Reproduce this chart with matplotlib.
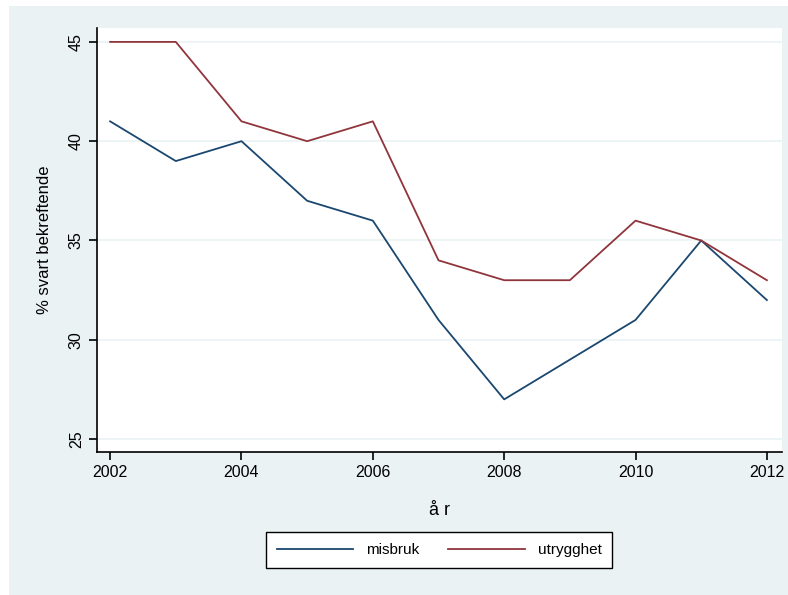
import matplotlib.pyplot as plt
from matplotlib.patches import Rectangle

plt.rcParams['font.family'] = ['Liberation Sans', 'DejaVu Sans']

years = [2002, 2003, 2004, 2005, 2006, 2007, 2008, 2009, 2010, 2011, 2012]
misbruk = [41, 39, 40, 37, 36, 31, 27, 29, 31, 35, 32]
utrygghet = [45, 45, 41, 40, 41, 34, 33, 33, 36, 35, 33]
yticks = [25, 30, 35, 40, 45]
xticks = [2002, 2004, 2006, 2008, 2010, 2012]

W, H = 788, 595
fig = plt.figure(figsize=(W / 100, H / 100), dpi=100)
fig.patch.set_facecolor('white')
# light outer graph region
fig.patches.append(Rectangle((9 / W, 0), 1 - 9 / W, 1 - 6 / H,
                             transform=fig.transFigure, facecolor='#EAF2F3',
                             edgecolor='none', zorder=-10))

ax = fig.add_axes([97 / W, 1 - 452 / H, (782 - 97) / W, (452 - 28) / H])
ax.set_facecolor('white')
ax.plot(years, misbruk, color='#1A476F', lw=1.3, label='misbruk')
ax.plot(years, utrygghet, color='#90353B', lw=1.3, label='utrygghet')

ax.set_xlim(2001.8, 2012.23)
ax.set_ylim(24.35, 45.7)
ax.set_xticks(xticks)
ax.set_yticks(yticks)
ax.grid(axis='y', color='#EAF2F3', lw=1.2)
ax.set_axisbelow(True)
for s in ['top', 'right']:
    ax.spines[s].set_visible(False)
for s in ['left', 'bottom']:
    ax.spines[s].set_linewidth(1.2)
ax.tick_params(length=6, width=1.2, labelsize=11.5)
for lab in ax.get_yticklabels():
    lab.set_rotation(90)
    lab.set_va('center')
ax.set_xlabel('å r', fontsize=13, labelpad=16)
ax.set_ylabel('% svart bekreftende', fontsize=12, labelpad=12)

leg = fig.legend(loc='center', bbox_to_anchor=(439 / W, 1 - 550 / H), ncol=2,
                 fontsize=11, frameon=True, fancybox=False, handlelength=5,
                 columnspacing=1.9, handletextpad=0.85, borderpad=0.7,
                 framealpha=1)
leg.get_frame().set_edgecolor('black')
leg.get_frame().set_facecolor('white')
leg.get_frame().set_linewidth(1.0)

fig.savefig('out.png', dpi=100)
